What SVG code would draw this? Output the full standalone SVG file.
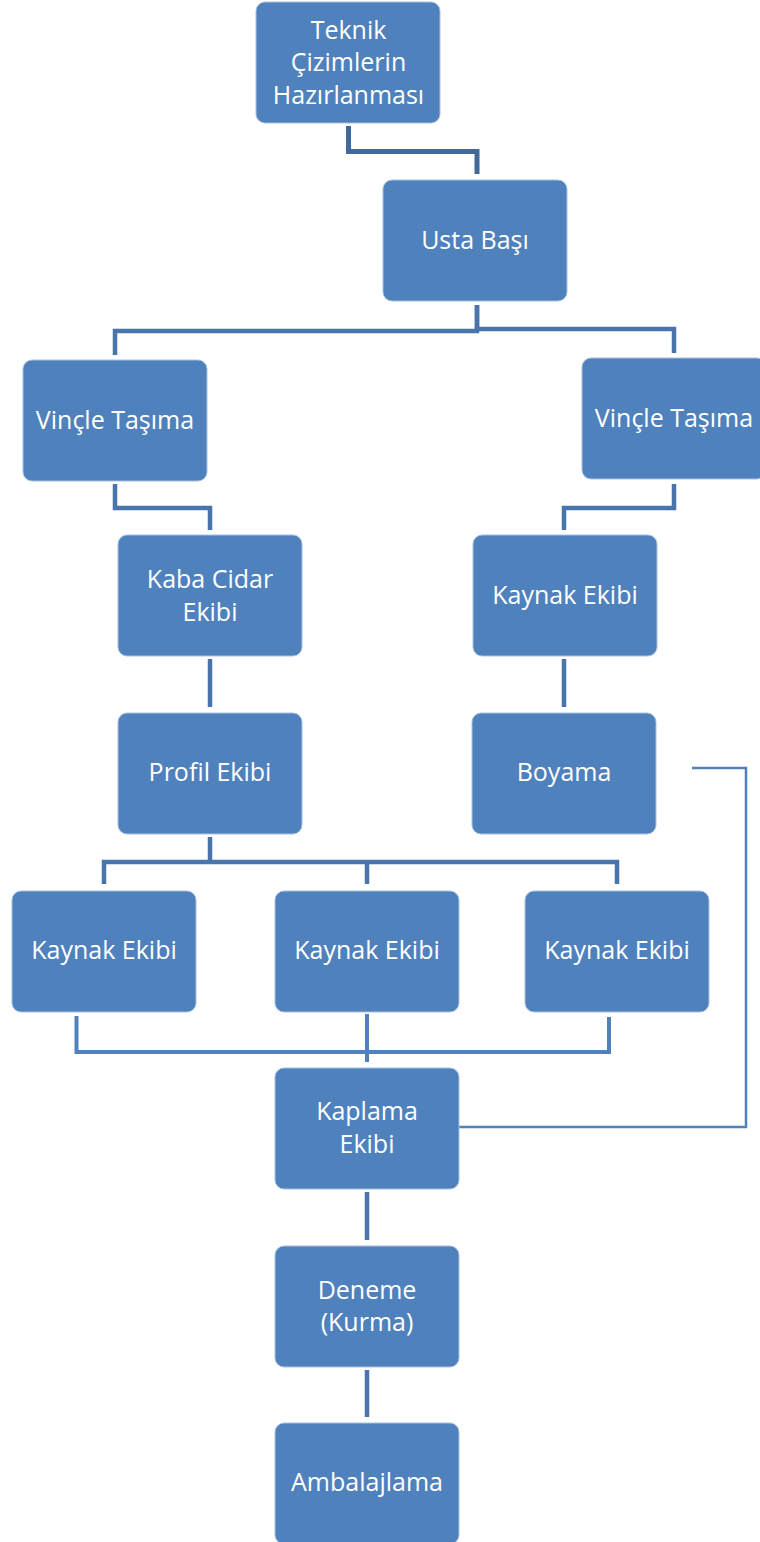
<svg xmlns="http://www.w3.org/2000/svg" width="760" height="1542" viewBox="0 0 760 1542">
<style>
.box{fill:#4f81bd;stroke:#a9c1df;stroke-width:1}
.t{font-family:"Open Sans","Noto Sans","DejaVu Sans",sans-serif;font-size:25px;fill:#ffffff;text-anchor:middle}
.c{fill:none;stroke:#4a75ac;stroke-width:4.5;stroke-linejoin:miter}
.cd{fill:none;stroke:#41699c;stroke-width:5}
.cl{fill:none;stroke:#4f81bd;stroke-width:4}
.ct{fill:none;stroke:#4f81bd;stroke-width:2.5}
</style>
<rect width="760" height="1542" fill="#ffffff"/>
<g id="connectors">
<path class="cd" d="M348.5 126 V151.5 H477 V174"/>
<path class="c" d="M477 305 V331 H115 V355"/>
<path class="c" d="M477 305 V329 H674 V353"/>
<path class="c" d="M115 484 V508 H210 V530"/>
<path class="c" d="M674 484 V508 H564 V530"/>
<path class="c" d="M210 659 V707"/>
<path class="c" d="M564 659 V707"/>
<path class="c" d="M210 837 V862"/>
<path class="c" d="M104 884 V862 H617 V884"/>
<path class="c" d="M367 862 V884"/>
<path class="cl" d="M76.5 1016 V1052 H609 V1017"/>
<path class="cl" d="M367 1014 V1062"/>
<path class="c" d="M367 1192 V1240"/>
<path class="c" d="M367 1370 V1417"/>
<path class="ct" d="M459 1127 H746 V768 H692"/>
</g>
<g id="teknik"><rect class="box" x="256" y="2" width="184" height="121" rx="9"/><text class="t" x="348.5" y="38.5">Teknik</text><text class="t" x="348.5" y="71">Çizimlerin</text><text class="t" x="348.5" y="103.5">Hazırlanması</text></g>
<g id="usta"><rect class="box" x="383" y="180" width="184" height="121" rx="9"/><text class="t" x="475" y="249">Usta Başı</text></g>
<g id="vincle-l"><rect class="box" x="23" y="360" width="184" height="121" rx="9"/><text class="t" x="115" y="429">Vinçle Taşıma</text></g>
<g id="vincle-r"><rect class="box" x="582" y="358" width="184" height="121" rx="9"/><text class="t" x="674" y="427">Vinçle Taşıma</text></g>
<g id="kaba"><rect class="box" x="118" y="535" width="184" height="121" rx="9"/><text class="t" x="210" y="588">Kaba Cidar</text><text class="t" x="210" y="620.5">Ekibi</text></g>
<g id="kaynak-top"><rect class="box" x="473" y="535" width="184" height="121" rx="9"/><text class="t" x="565" y="604">Kaynak Ekibi</text></g>
<g id="profil"><rect class="box" x="118" y="713" width="184" height="121" rx="9"/><text class="t" x="210" y="781">Profil Ekibi</text></g>
<g id="boyama"><rect class="box" x="472" y="713" width="184" height="121" rx="9"/><text class="t" x="564" y="781">Boyama</text></g>
<g id="kaynak-1"><rect class="box" x="12" y="891" width="184" height="121" rx="9"/><text class="t" x="104" y="959">Kaynak Ekibi</text></g>
<g id="kaynak-2"><rect class="box" x="275" y="891" width="184" height="121" rx="9"/><text class="t" x="367" y="959">Kaynak Ekibi</text></g>
<g id="kaynak-3"><rect class="box" x="525" y="891" width="184" height="121" rx="9"/><text class="t" x="617" y="959">Kaynak Ekibi</text></g>
<g id="kaplama"><rect class="box" x="275" y="1068" width="184" height="121" rx="9"/><text class="t" x="367" y="1120">Kaplama</text><text class="t" x="367" y="1152.5">Ekibi</text></g>
<g id="deneme"><rect class="box" x="275" y="1246" width="184" height="121" rx="9"/><text class="t" x="367" y="1299">Deneme</text><text class="t" x="367" y="1331">(Kurma)</text></g>
<g id="ambalaj"><rect class="box" x="275" y="1423" width="184" height="121" rx="9"/><text class="t" x="367" y="1491">Ambalajlama</text></g>
</svg>
